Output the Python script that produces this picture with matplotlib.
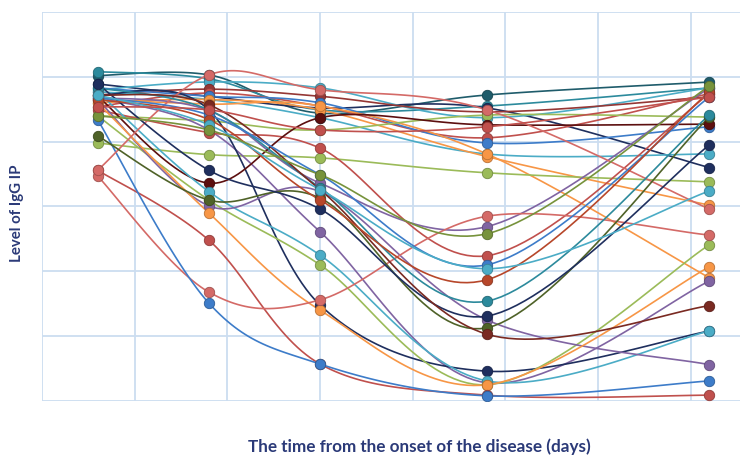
import numpy as np
import matplotlib
matplotlib.use('Agg')
import matplotlib.pyplot as plt
from matplotlib.colors import to_rgb

# Sampling days (x) and IgG IP level per patient (y, arbitrary units 0-60)
days = [1, 3, 5, 8, 12]

patients = [
    [50.2, 50.3, 44.4, 47.2, 49.2],
    [50.8, 49.7, 44.9, 45.5, 48.3],
    [48.9, 47.0, 45.2, 45.2, 36.0],
    [48.0, 49.2, 48.3, 43.7, 48.3],
    [47.2, 48.1, 47.0, 44.6, 46.9],
    [45.4, 47.5, 45.5, 40.6, 47.4],
    [48.3, 47.0, 46.0, 39.8, 42.3],
    [47.7, 46.5, 43.7, 38.1, 38.1],
    [46.0, 46.5, 44.9, 37.7, 30.2],
    [46.5, 45.8, 45.5, 38.1, 19.0],
    [39.8, 38.0, 37.5, 35.2, 33.8],
    [44.0, 43.2, 41.8, 44.1, 43.8],
    [46.8, 44.8, 33.6, 26.9, 48.3],
    [46.8, 41.8, 26.1, 2.8, 18.5],
    [44.9, 41.4, 39.0, 22.4, 47.4],
    [47.2, 44.9, 14.8, 4.6, 10.8],
    [47.0, 33.6, 43.7, 42.6, 42.7],
    [47.7, 32.3, 22.5, 3.1, 10.8],
    [44.0, 31.0, 21.0, 2.5, 24.1],
    [46.5, 30.1, 32.3, 12.5, 5.6],
    [46.0, 29.0, 14.0, 2.5, 20.7],
    [35.6, 24.8, 5.7, 0.9, 0.9],
    [34.7, 16.8, 15.6, 28.5, 25.6],
    [43.4, 15.1, 5.7, 0.8, 3.1],
    [35.6, 50.3, 48.0, 44.9, 29.6],
    [40.9, 31.0, 31.3, 11.3, 43.8],
    [48.3, 44.9, 32.9, 15.4, 44.1],
    [48.9, 35.6, 29.6, 13.1, 39.5],
    [47.2, 45.7, 32.6, 10.3, 14.7],
    [46.8, 44.1, 34.9, 21.0, 46.9],
    [46.5, 43.4, 31.0, 18.7, 47.7],
    [47.2, 42.6, 32.6, 20.4, 32.4],
    [44.0, 41.8, 34.9, 25.8, 48.6],
    [45.4, 44.9, 41.8, 42.3, 46.9],
]

colors = [
    '#1F5C6B', '#2C8A9C', '#1F2F5E', '#4BACC6', '#953735', '#C0504D',
    '#3D7CC9', '#4BACC6', '#F79646', '#F79646', '#9BBB59', '#9BBB59',
    '#8064A2', '#8064A2', '#C0504D', '#1F2F5E', '#5C0F0F', '#4BACC6',
    '#9BBB59', '#8064A2', '#F79646', '#C0504D', '#D46A67', '#3D7CC9',
    '#D46A67', '#4F6228', '#2C8A9C', '#1F2F5E', '#7A2A22', '#3D7CC9',
    '#B7472A', '#4BACC6', '#77933C', '#C0504D',
]

xlabel = 'The time from the onset of the disease (days)'
ylabel = 'Level of IgG IP'


def smooth(x, y, n=30):
    # Catmull-Rom style bezier, like spreadsheet "smoothed line"
    p = np.column_stack([x, y]).astype(float)
    pts = []
    for i in range(len(p) - 1):
        p0 = p[i - 1] if i > 0 else p[i]
        p1 = p[i]
        p2 = p[i + 1]
        p3 = p[i + 2] if i + 2 < len(p) else p[i + 1]
        c1 = p1 + (p2 - p0) / 6.0
        c2 = p2 - (p3 - p1) / 6.0
        t = np.linspace(0, 1, n)[:, None]
        seg = ((1 - t) ** 3) * p1 + 3 * ((1 - t) ** 2) * t * c1 + 3 * (1 - t) * t ** 2 * c2 + t ** 3 * p2
        pts.append(seg if i == 0 else seg[1:])
    pts = np.vstack(pts)
    return pts[:, 0], pts[:, 1]


fig = plt.figure(figsize=(7.4, 4.57), dpi=100)
ax = fig.add_axes([42 / 740, 1 - 401 / 457, 1 - 42 / 740, (401 - 12) / 457])

gridColor = '#CCDDF0'
xStep = 5.0 / 3.0
xMax = 12.55
for gx in np.arange(0, xMax, xStep):
    ax.axvline(gx, color=gridColor, lw=1.3, zorder=0)
for gy in range(0, 61, 10):
    ax.axhline(gy, color=gridColor, lw=1.3, zorder=0)

for k, (vals, col) in enumerate(zip(patients, colors)):
    sx, sy = smooth(days, vals)
    ax.plot(sx, sy, color=col, lw=1.2, zorder=2 + k * 0.01)
    edge = tuple(c * 0.75 for c in to_rgb(col))
    ax.plot(days, vals, 'o', color=col, markersize=7.5, markeredgecolor=edge,
            markeredgewidth=0.6, zorder=3 + k * 0.01)

ax.set_xlim(0, xMax)
ax.set_ylim(0, 60)
ax.set_xticks([])
ax.set_yticks([])
for s in ax.spines.values():
    s.set_visible(False)

fig.text(419 / 740, 1 - 447 / 457, xlabel, ha='center', va='center',
         fontsize=12.3, fontweight='bold', color='#2B3A78', family=['Lato', 'DejaVu Sans'])
fig.text(17 / 740, 1 - 213 / 457, ylabel, ha='center', va='center', rotation=90,
         fontsize=10.8, fontweight='bold', color='#2B3A78', family=['Lato', 'DejaVu Sans'])

fig.savefig('out.png', dpi=100)
